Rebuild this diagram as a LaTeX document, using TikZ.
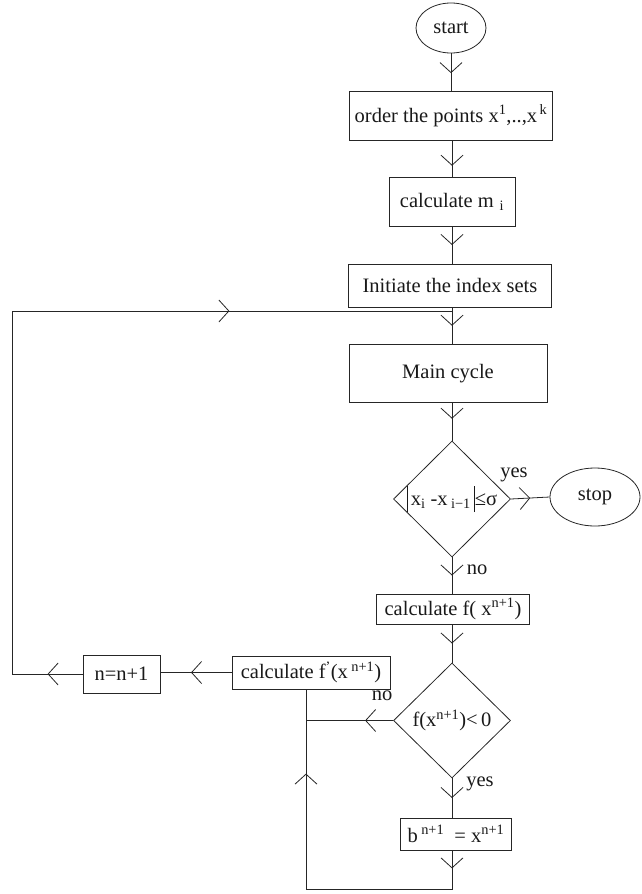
\documentclass[tikz,border=0pt]{standalone}
\usepackage{fontspec}
\setmainfont{Liberation Serif}
\usetikzlibrary{shapes.geometric,arrows.meta,decorations.markings}
\newcommand{\vbarx}{\rule[-7pt]{0.5pt}{26pt}}
\begin{document}
\begin{tikzpicture}[x=1pt,y=-1pt,
  every node/.style={font=\fontsize{20.5}{24}\selectfont, text=black!90},
  box/.style={draw=black!85, rectangle, line width=0.8pt, inner sep=0pt},
  oval/.style={draw=black!85, ellipse, line width=0.8pt, inner sep=0pt},
  dec/.style={draw=black!85, diamond, line width=0.8pt, inner sep=0pt, minimum width=117pt, minimum height=116pt},
  lab/.style={inner sep=0pt},
  vtip/.tip={Straight Barb[length=10pt,width=22pt]},
  flow/.style={draw=black!85, line width=0.8pt, postaction={decorate},
    decoration={markings, mark=at position #1 with {\arrow{vtip}}}},
  flow/.default=0.5,
  flowtwo/.style 2 args={draw=black!85, line width=0.8pt, postaction={decorate},
    decoration={markings, mark=at position #1 with {\arrow{vtip}}, mark=at position #2 with {\arrow{vtip}}}}
]
\useasboundingbox (0,0) rectangle (642,894);

% nodes
\node[oval, minimum width=70pt, minimum height=50pt] (start) at (451,28) {start};
\node[box, minimum width=203pt, minimum height=49pt] (order) at (451,115.5) {order the points x\textsuperscript{1},..,x\textsuperscript{\,k}};
\node[box, minimum width=126pt, minimum height=49pt] (calcm) at (452,201.5) {calculate m\,\textsubscript{\,i}};
\node[box, minimum width=203pt, minimum height=43pt] (init) at (450,285.5) {Initiate the index sets};
\node[box, minimum width=198pt, minimum height=58pt] (main) at (448,373.5) {Main cycle};
\node[dec] (d1) at (452,499) {};
\node[lab] (d1t) at (d1) {\vbarx\,x\textsubscript{i} -x\,\textsubscript{i−1}\,\vbarx≤σ};
\node[oval, minimum width=90pt, minimum height=58pt] (stop) at (595,497) {stop};
\node[box, minimum width=153pt, minimum height=30pt] (calcf) at (453,609) {calculate f( x\textsuperscript{n+1})};
\node[dec, minimum height=115pt] (d2) at (452,720.5) {};
\node[lab] (d2t) at (d2) {f(x\textsuperscript{n+1})<\,0};
\node[box, minimum width=111pt, minimum height=32pt] (bb) at (456,834) {b\,\textsuperscript{n+1}\enspace = x\textsuperscript{n+1}};
\node[box, minimum width=158pt, minimum height=33pt] (fp) at (311,672.5) {calculate f\textsuperscript{'}(x\,\textsuperscript{n+1})};
\node[box, minimum width=77pt, minimum height=38pt] (nn) at (121.5,674) {n=n+1};

% labels
\node[lab] (yes1) at (514,475) {yes};
\node[lab] (no1) at (477,570) {no};
\node[lab] (no2) at (382,696) {no};
\node[lab] (yes2) at (480,784) {yes};

% loop coordinates
\coordinate (lbl) at (12,674);
\coordinate (ltl) at (12,311);
\coordinate (ltr) at (452,311);
\coordinate (bbr) at (452,889);
\coordinate (bbl) at (306,889);
\coordinate (nol) at (306,720.5);

% connectors
\draw[flow=0.53] (start.south) -- (start.south |- order.north);
\draw[flow=0.7] (order.south -| calcm) -- (calcm.north);
\draw[flow] (calcm.south) -- (calcm.south |- init.north);
\draw[flow] (init.south -| d1) -- (main.north -| d1);
\draw[flow=0.42] (main.south -| d1) -- (d1.north);
\draw[flow] (d1.east) -- (stop.west);
\draw[flow] (d1.south) -- (calcf.north -| d1);
\draw[flow] (calcf.south -| d2) -- (d2.north);
\draw[flow] (d2.south) -- (bb.north -| d2);
\draw[flow=0.57] (fp.west) -- (nn.east |- fp.west);
\draw[flowtwo={35pt}{651pt}] (nn.west) -- (lbl) -- (ltl) -- (ltr);
\draw[flow=28pt] (d2.west) -- (nol);
\draw[flowtwo={18pt}{300pt}] (bb.south -| bbr) -- (bbr) -- (bbl) -- (bbl |- fp.south);
\end{tikzpicture}
\end{document}
